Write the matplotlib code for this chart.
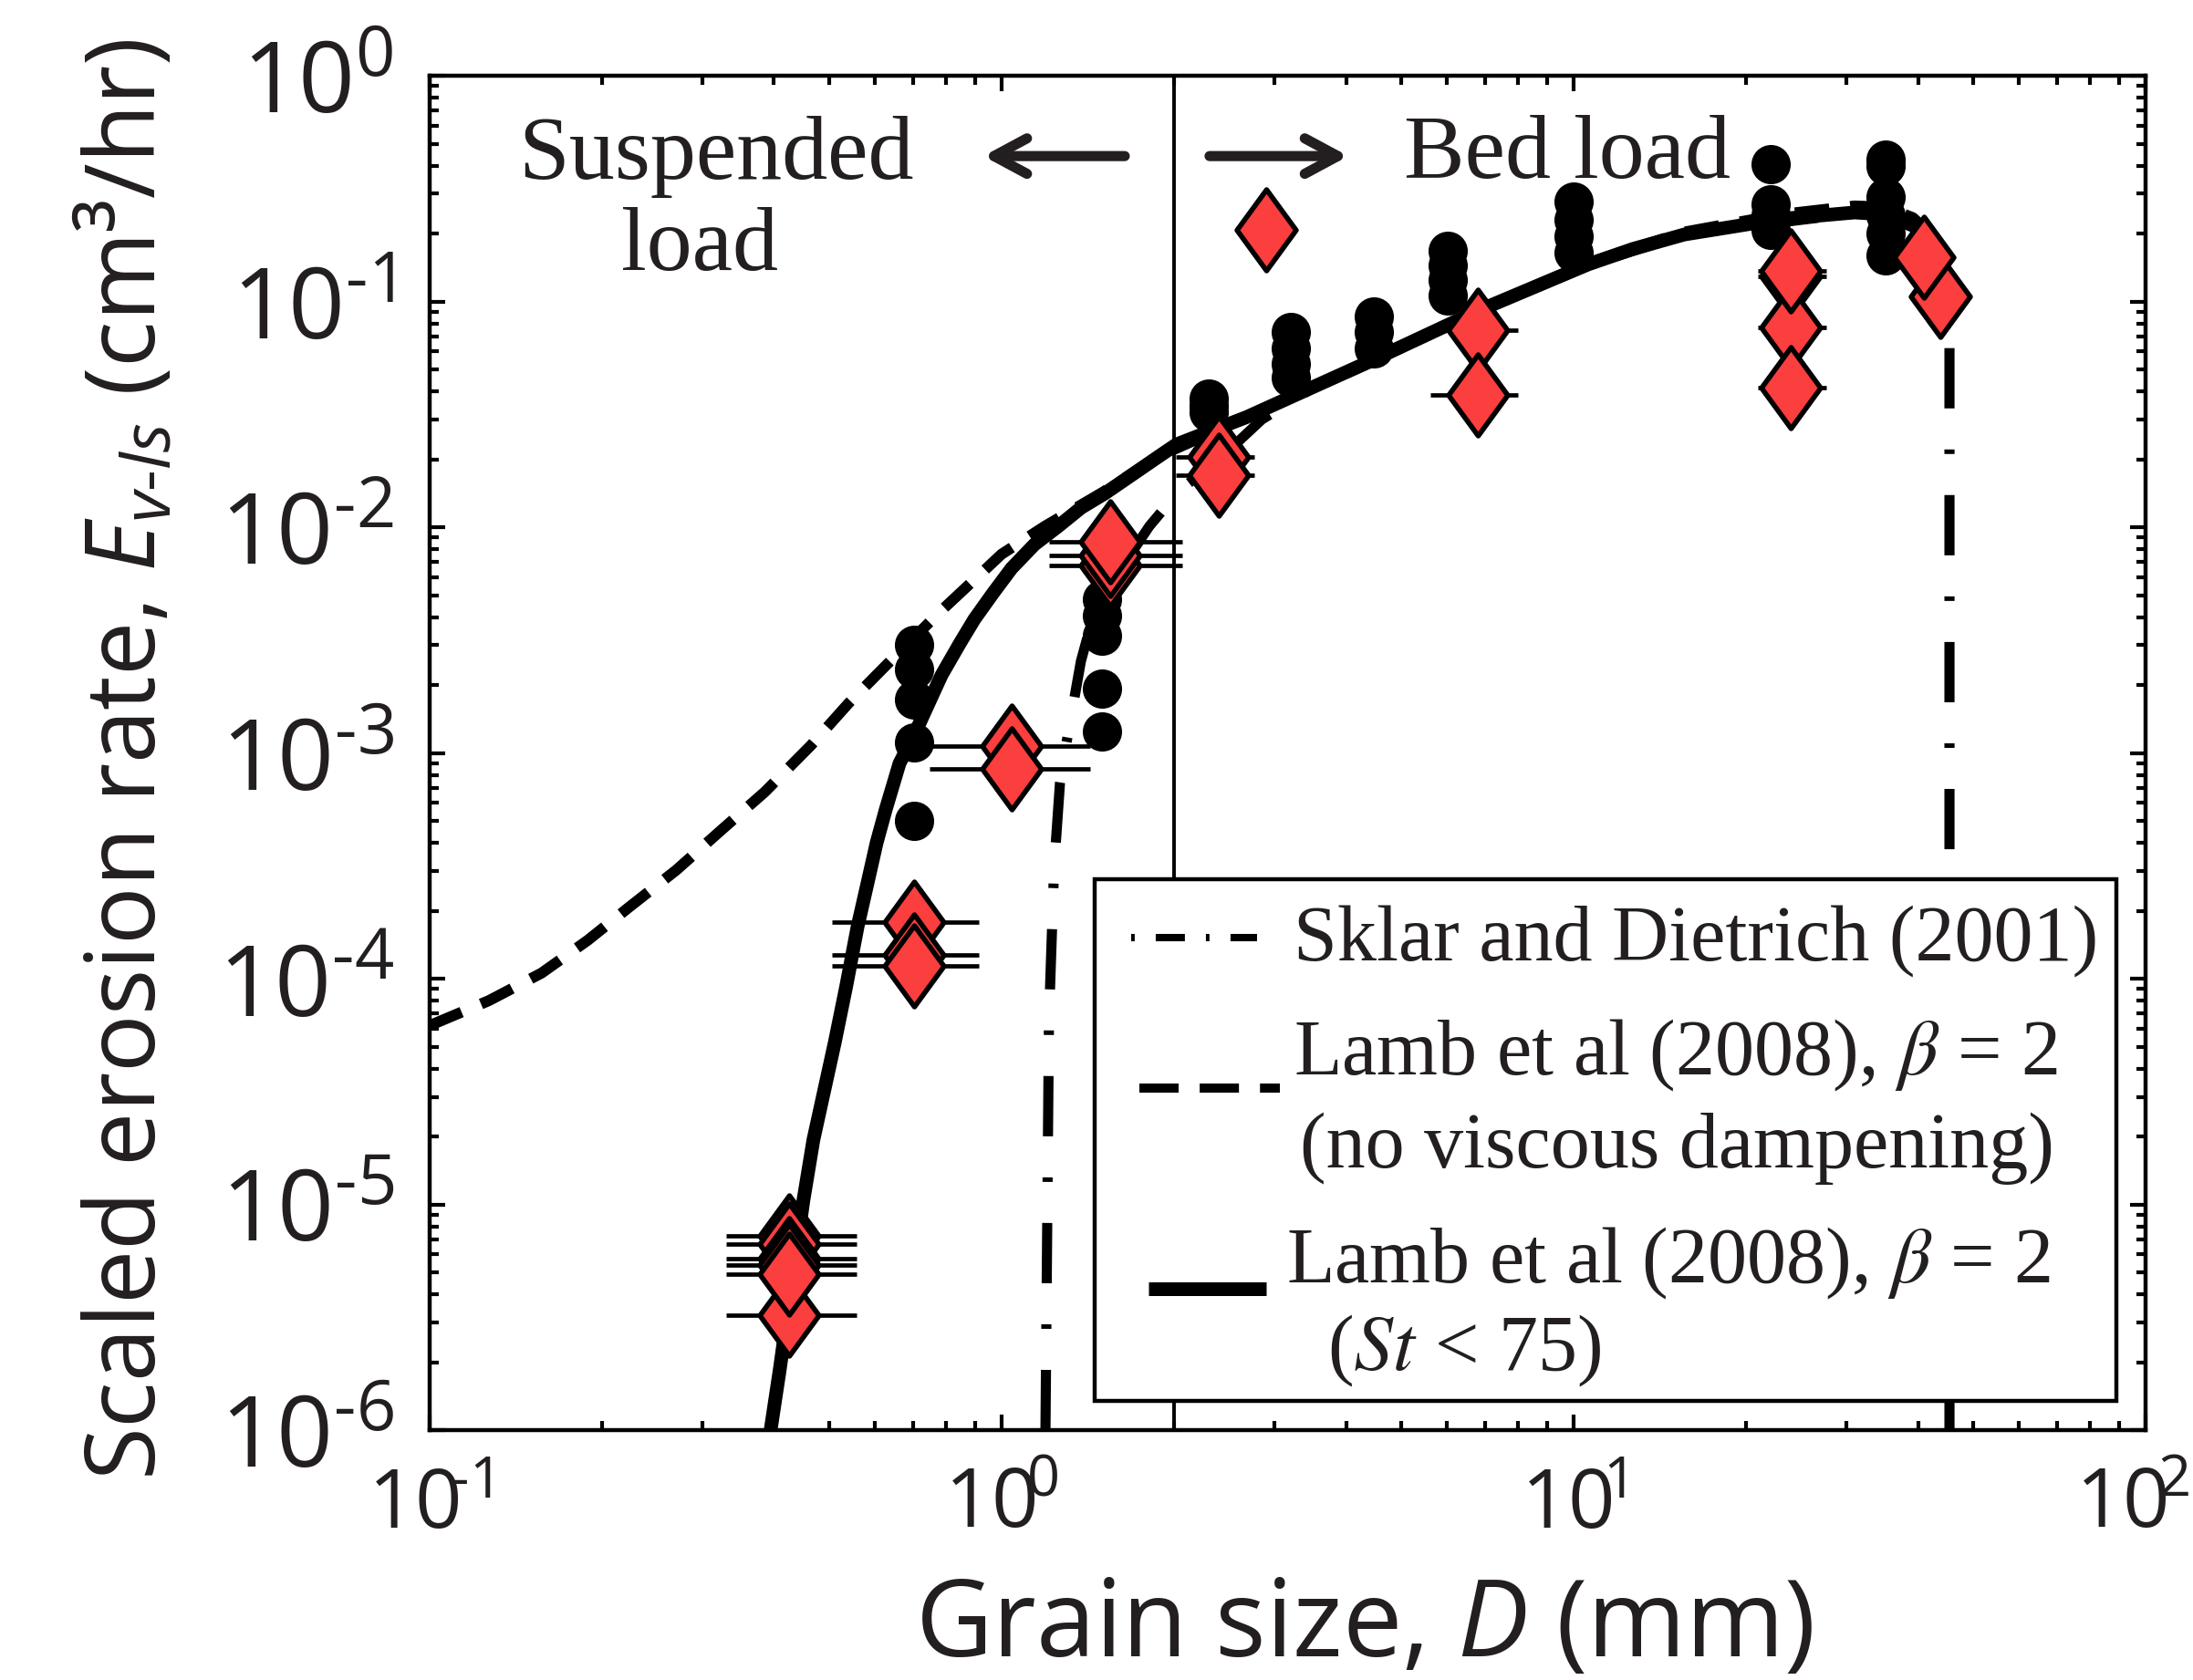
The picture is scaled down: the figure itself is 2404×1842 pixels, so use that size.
import numpy as np
import matplotlib
matplotlib.use('Agg')
import matplotlib.pyplot as plt
from matplotlib.path import Path
from matplotlib.markers import MarkerStyle
from matplotlib.patches import Rectangle
from matplotlib.transforms import ScaledTranslation
from matplotlib.ticker import LogLocator, NullFormatter, FixedLocator, FixedFormatter

# ---- measured points (grain size D in mm, erosion rate in cm3/hr) ----
dot_d = [0.703, 0.703, 0.703, 0.703, 0.703,
         1.50, 1.50, 1.50, 1.50, 1.50,
         2.30, 2.30, 2.30,
         3.20, 3.20, 3.20, 3.20,
         4.48, 4.48, 4.48,
         6.03, 6.03, 6.03, 6.03,
         10.0, 10.0, 10.0, 10.0,
         22.1, 22.1, 22.1, 22.1,
         35.1, 35.1, 35.1, 35.1, 35.1, 35.1]
dot_e = [3.01e-3, 2.35e-3, 1.73e-3, 1.11e-3, 5.0e-4,
         4.8e-3, 4.06e-3, 3.31e-3, 1.93e-3, 1.25e-3,
         0.0371, 0.0345, 0.0324,
         0.073, 0.062, 0.053, 0.046,
         0.086, 0.073, 0.062,
         0.168, 0.145, 0.125, 0.106,
         0.277, 0.23, 0.195, 0.165,
         0.405, 0.27, 0.24, 0.208,
         0.425, 0.40, 0.29, 0.24, 0.20, 0.16]

dia_d = [0.425, 0.425, 0.425, 0.425, 0.425, 0.425,
         0.703, 0.703, 0.703,
         1.04, 1.04,
         1.55, 1.55, 1.55,
         2.40, 2.40,
         2.90,
         6.81, 6.81,
         24.0, 24.0, 24.0, 24.0,
         43.8, 40.9]
dia_e = [7.26e-6, 6.66e-6, 5.78e-6, 5.37e-6, 3.24e-6, 4.92e-6,
         1.78e-4, 1.28e-4, 1.14e-4,
         1.07e-3, 8.5e-4,
         6.8e-3, 7.5e-3, 8.6e-3,
         0.0205, 0.017,
         0.207,
         0.0748, 0.0386,
         0.129, 0.0765, 0.137, 0.0415,
         0.105, 0.157]
dia_lo = [0.330, 0.330, 0.330, 0.330, 0.330, 0.330,
          0.505, 0.505, 0.505,
          0.748, 0.748,
          1.21, 1.21, 1.21,
          2.02, 2.02,
          2.90,
          5.62, 5.62,
          21.0, 21.0, 21.0, 21.0,
          43.8, 40.9]
dia_hi = [0.557, 0.557, 0.557, 0.557, 0.557, 0.557,
          0.912, 0.912, 0.912,
          1.43, 1.43,
          2.07, 2.07, 2.07,
          2.77, 2.77,
          2.90,
          7.99, 7.99,
          27.7, 27.7, 27.7, 27.7,
          43.8, 40.9]

# ---- model curves ----
sklar_d = [1.193, 1.210, 1.233, 1.242, 1.265, 1.288, 1.376, 1.454, 1.642, 1.812,
           2.047, 2.37, 2.85, 3.42, 4.38, 6.85, 10.6, 15.6, 24.3, 31.0, 35.1,
           39.2, 42.5, 45.0, 45.4, 45.4]
sklar_e = [1e-6, 6.6e-5, 2.7e-4, 3.8e-4, 7.4e-4, 9.9e-4, 2.55e-3, 4.25e-3, 6.95e-3, 1.01e-2,
           1.46e-2, 1.94e-2, 3.0e-2, 4.0e-2, 5.3e-2, 9.1e-2, 0.145, 0.197, 0.228, 0.246, 0.24,
           0.215, 0.185, 0.15, 0.1, 1e-6]

lamb_nv_d = [0.1, 0.127, 0.157, 0.189, 0.223, 0.270, 0.325, 0.385, 0.464, 0.540,
             0.650, 0.785, 1.0, 1.19, 1.51, 1.888, 2.685, 3.424, 4.377, 6.85,
             10.6, 15.6, 23.0, 31.0, 35.1, 39.2, 42.0]
lamb_nv_e = [6.2e-5, 8.0e-5, 1.06e-4, 1.48e-4, 2.07e-4, 3.03e-4, 4.6e-4, 6.7e-4, 1.08e-3, 1.66e-3,
             2.67e-3, 4.28e-3, 7.6e-3, 1.01e-2, 1.44e-2, 2.07e-2, 3.08e-2, 4.07e-2, 5.39e-2, 9.2e-2,
             0.148, 0.203, 0.243, 0.265, 0.262, 0.235, 0.2]

lamb_st_d = [0.3946, 0.4097, 0.4502, 0.4687, 0.5108, 0.5347, 0.560, 0.5818, 0.6046, 0.627,
             0.663, 0.7031, 0.785, 0.8465, 0.896, 0.964, 1.041, 1.141, 1.256, 1.377,
             1.514, 1.888, 2.023, 2.685, 3.424, 4.377, 6.85, 10.6, 12.7, 15.6,
             23.0, 31.0, 35.1, 39.2, 41.9]
lamb_st_e = [1.0e-6, 1.88e-6, 1.04e-5, 1.93e-5, 5.21e-5, 9.2e-5, 1.70e-4, 2.6e-4, 4.0e-4, 5.6e-4,
             9.0e-4, 1.20e-3, 2.21e-3, 3.08e-3, 3.91e-3, 5.07e-3, 6.58e-3, 8.38e-3, 1.01e-2, 1.22e-2,
             1.41e-2, 2.07e-2, 2.33e-2, 3.08e-2, 4.07e-2, 5.39e-2, 9.16e-2, 0.146, 0.171, 0.198,
             0.232, 0.248, 0.243, 0.217, 0.189]

boundary_d = 2.0

xtick_vals = [0.1, 1, 10, 100]
xtick_labels = [r'10$\!^{\text{-}1}$', r'10$\!^{0}$', r'10$\!^{1}$', r'10$\!^{2}$']
ytick_vals = [1e-6, 1e-5, 1e-4, 1e-3, 1e-2, 1e-1, 1]
ytick_labels = [r'10$^{\text{-}6}$', r'10$^{\text{-}5}$', r'10$^{\text{-}4}$', r'10$^{\text{-}3}$',
                r'10$^{\text{-}2}$', r'10$^{\text{-}1}$', r'10$^{0}$']

legend_labels = ['Sklar and Dietrich (2001)',
                 r'Lamb et al (2008), $\beta$ = 2', '(no viscous dampening)',
                 r'Lamb et al (2008), $\beta$ = 2', r'($\mathit{St}$ < 75)']

ink = '#231f20'
red = '#fb3e3e'

plt.rcParams['font.family'] = ['Open Sans', 'DejaVu Sans']
plt.rcParams['mathtext.fontset'] = 'custom'
plt.rcParams['mathtext.rm'] = 'Open Sans'
plt.rcParams['mathtext.it'] = 'Open Sans:italic'
plt.rcParams['mathtext.bf'] = 'Open Sans:bold'
plt.rcParams['lines.scale_dashes'] = False

fig = plt.figure(figsize=(12.02, 9.21), dpi=200)
ax = fig.add_axes([0.1959, 0.1487, 0.7825, 0.8062])

ax.set_xscale('log')
ax.set_yscale('log')
ax.set_xlim(0.1, 100)
ax.set_ylim(1e-6, 1)

ax.axvline(boundary_d, color='k', lw=1.4, zorder=1)

ax.plot(sklar_d, sklar_e, color='k', lw=4.0, dashes=(23.8, 16.2, 1.8, 16.2),
        solid_capstyle='butt', dash_capstyle='butt', zorder=2)
ax.plot(lamb_nv_d, lamb_nv_e, color='k', lw=4.3, dashes=(13.7, 8.3),
        dash_capstyle='butt', zorder=2)
ax.plot(lamb_st_d, lamb_st_e, color='k', lw=5.4, solid_capstyle='butt',
        solid_joinstyle='round', zorder=2)

ax.plot(dot_d, dot_e, 'o', color='k', ms=14.5, mec='k', zorder=3)

dia_d = np.array(dia_d)
xerr = [dia_d - np.array(dia_lo), np.array(dia_hi) - dia_d]
ax.errorbar(dia_d, dia_e, xerr=xerr, fmt='none', ecolor='k', elinewidth=1.7,
            capsize=0, zorder=3.5)
diamond = Path([(0, 1), (0.73, 0), (0, -1), (-0.73, 0), (0, 1)],
               [Path.MOVETO, Path.LINETO, Path.LINETO, Path.LINETO, Path.CLOSEPOLY])
ax.plot(dia_d, dia_e, ls='none', marker=MarkerStyle(diamond, joinstyle='miter'),
        ms=32, mfc=red, mec='k', mew=2.0, zorder=4)

# axes styling
for s in ax.spines.values():
    s.set_linewidth(1.6)
    s.set_zorder(7)
ax.xaxis.set_major_locator(FixedLocator(xtick_vals))
ax.xaxis.set_major_formatter(FixedFormatter(xtick_labels))
ax.yaxis.set_major_locator(FixedLocator(ytick_vals))
ax.yaxis.set_major_formatter(FixedFormatter(ytick_labels))
ax.xaxis.set_minor_locator(LogLocator(base=10, subs=np.arange(2, 10), numticks=100))
ax.yaxis.set_minor_locator(LogLocator(base=10, subs=np.arange(2, 10), numticks=100))
ax.xaxis.set_minor_formatter(NullFormatter())
ax.yaxis.set_minor_formatter(NullFormatter())
ax.tick_params(which='both', direction='in', top=True, right=True, colors='k', labelcolor=ink)
ax.tick_params(which='major', length=6, width=1.5)
ax.tick_params(which='minor', length=3.5, width=1.5)
ax.tick_params(axis='y', which='major', labelsize=39, pad=14)
ax.tick_params(axis='x', which='major', labelsize=32.5, pad=14)

# keep the last x tick label inside the figure edge
last = ax.xaxis.get_major_ticks()[-1].label1
last.set_transform(last.get_transform() + ScaledTranslation(-5 / 72, 0, fig.dpi_scale_trans))

# annotations
serif = 'Liberation Serif'
ax.text(0.1669, 0.9239, 'Suspended', transform=ax.transAxes, ha='center', va='baseline',
        family=serif, fontsize=36, color=ink)
ax.text(0.1574, 0.8566, 'load', transform=ax.transAxes, ha='center', va='baseline',
        family=serif, fontsize=36, color=ink)
ax.text(0.663, 0.9246, 'Bed load', transform=ax.transAxes, ha='center', va='baseline',
        family=serif, fontsize=36, color=ink)
arrow = dict(arrowstyle='->,head_length=0.65,head_width=0.35', lw=4, color=ink,
             shrinkA=0, shrinkB=0, mutation_scale=20)
ax.annotate('', xy=(0.3227, 0.9407), xytext=(0.4051, 0.9407), xycoords='axes fraction',
            textcoords='axes fraction', arrowprops=arrow)
ax.annotate('', xy=(0.5354, 0.9407), xytext=(0.4545, 0.9407), xycoords='axes fraction',
            textcoords='axes fraction', arrowprops=arrow)

# legend box drawn by hand to keep the multi-line layout
ax.add_patch(Rectangle((0.3876, 0.02155), 0.5954, 0.3852, transform=ax.transAxes,
                       facecolor='white', edgecolor='k', lw=1.6, zorder=5))
ax.plot([0.4088, 0.4822], [0.3636, 0.3636], transform=ax.transAxes, color='k', lw=2.9,
        dashes=(1.4, 8.3, 11.5, 8.3), dash_capstyle='butt', zorder=6)
ax.plot([0.4136, 0.4955], [0.2525, 0.2525], transform=ax.transAxes, color='k', lw=3.6,
        dashes=(15.5, 8.3), dash_capstyle='butt', zorder=6)
ax.plot([0.4189, 0.4875], [0.1044, 0.1044], transform=ax.transAxes, color='k', lw=5.4,
        solid_capstyle='butt', zorder=6)
leg_pos = [(0.5035, 0.3468), (0.5035, 0.2626), (0.5072, 0.1939), (0.4992, 0.1091), (0.5231, 0.0444)]
for (tx, ty), lab in zip(leg_pos, legend_labels):
    ax.text(tx, ty, lab, transform=ax.transAxes, ha='left', va='baseline', family=serif,
            fontsize=31, color=ink, math_fontfamily='stix', zorder=6)

fig.text(0.058, 0.548, r'Scaled erosion rate, $E_{v\text{-}ls}$ (cm³/hr)', rotation=90,
         ha='center', va='center', fontsize=38, color=ink)
fig.text(0.622, 0.014, r'Grain size, $D$ (mm)', ha='center', va='baseline',
         fontsize=42, color=ink)

fig.savefig('out.png', dpi=200)
